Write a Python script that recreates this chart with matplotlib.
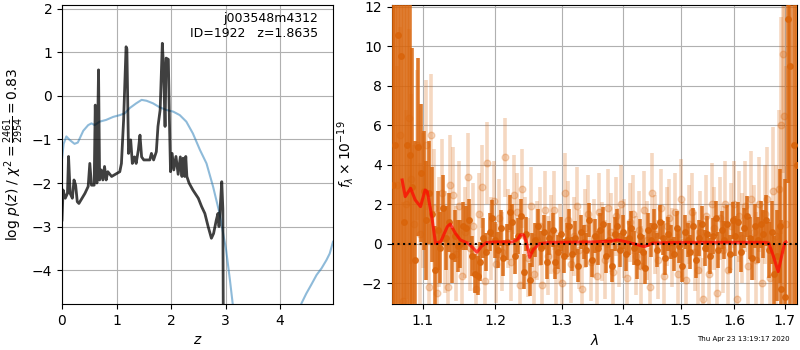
import matplotlib
matplotlib.use("Agg")
import matplotlib.pyplot as plt
from matplotlib.ticker import FixedLocator, FixedFormatter, NullLocator

# ---------------- left panel: p(z) ----------------
z_pz = [0.00, 0.02, 0.06, 0.10, 0.12, 0.15, 0.19, 0.22, 0.25, 0.28,
        0.31, 0.42, 0.48, 0.51, 0.54, 0.59, 0.61, 0.64, 0.67, 0.69,
        0.72, 0.75, 0.78, 0.81, 0.84, 0.91, 1.06, 1.09, 1.13, 1.175,
        1.19, 1.22, 1.26, 1.29, 1.33, 1.36, 1.40, 1.43, 1.46, 1.50,
        1.61, 1.64, 1.68, 1.73, 1.76, 1.80, 1.84, 1.86, 1.89, 1.91,
        1.95, 1.97, 1.99, 2.02, 2.05, 2.09, 2.13, 2.17, 2.20, 2.22,
        2.25, 2.27, 2.29, 2.33, 2.40, 2.50, 2.56, 2.62, 2.68, 2.74,
        2.78, 2.83, 2.86, 2.88, 2.93, 2.95, 2.98]
logpz = [-2.85, -2.16, -2.35, -2.24, -1.39, -2.24, -2.35, -1.93, -2.05, -2.43,
         -2.47, -2.24, -2.08, -1.55, -2.05, -2.05, -0.21, -2.00, 0.60, -1.93,
         -1.70, -1.93, -1.62, -1.93, -1.74, -1.85, -1.74, -1.55, -0.55, 1.13,
         1.08, -1.32, -1.01, -1.55, -1.40, -1.55, -1.24, -0.90, -1.40, -1.47,
         -1.47, -1.32, -1.47, -1.28, -0.70, -0.32, 1.21, 0.70, -0.70, 0.87,
         0.84, -0.55, -1.74, -1.32, -1.70, -1.39, -1.80, -1.40, -1.85, -1.43,
         -1.85, -1.39, -1.85, -2.00, -2.16, -2.35, -2.54, -2.70, -3.00, -3.27,
         -3.16, -2.85, -2.70, -3.00, -1.97, -2.60, -12.0]

z_chi = [0.00, 0.03, 0.08, 0.14, 0.23, 0.29, 0.39, 0.48, 0.54, 0.60,
         0.69, 0.81, 0.94, 1.06, 1.15, 1.24, 1.36, 1.46, 1.55, 1.67,
         1.79, 1.91, 2.04, 2.16, 2.28, 2.40, 2.53, 2.65, 2.77, 2.89,
         3.01, 3.08, 3.13, 3.40, 3.80, 4.20, 4.39, 4.48, 4.57, 4.67,
         4.76, 4.85, 4.91, 4.97]
chi_scaled = [-1.45, -1.10, -0.93, -1.01, -1.10, -1.07, -0.80, -0.67, -0.63, -0.67,
              -0.59, -0.55, -0.48, -0.44, -0.40, -0.28, -0.17, -0.09, -0.11, -0.17,
              -0.26, -0.32, -0.36, -0.44, -0.59, -0.86, -1.24, -1.55, -2.08, -2.70,
              -3.54, -4.23, -4.77, -6.50, -7.50, -6.00, -4.77, -4.54, -4.34, -4.11,
              -3.96, -3.77, -3.62, -3.35]

# ---------------- right panel: spectrum ----------------
lam_dark = [1.061, 1.064, 1.068, 1.071, 1.075, 1.079, 1.083, 1.086, 1.090, 1.094,
            1.097, 1.101, 1.104, 1.108, 1.112, 1.116, 1.120, 1.123, 1.127, 1.131,
            1.135, 1.139, 1.143, 1.147, 1.151, 1.155, 1.159, 1.163, 1.167, 1.171,
            1.175, 1.179, 1.183, 1.187, 1.192, 1.196, 1.200, 1.204, 1.208, 1.212,
            1.217, 1.221, 1.225, 1.229, 1.234, 1.238, 1.242, 1.246, 1.251, 1.255,
            1.259, 1.264, 1.268, 1.272, 1.277, 1.281, 1.286, 1.290, 1.294, 1.299,
            1.303, 1.308, 1.312, 1.317, 1.321, 1.326, 1.330, 1.335, 1.339, 1.344,
            1.349, 1.353, 1.358, 1.362, 1.367, 1.372, 1.376, 1.381, 1.386, 1.390,
            1.395, 1.400, 1.405, 1.409, 1.414, 1.419, 1.424, 1.429, 1.433, 1.438,
            1.443, 1.448, 1.453, 1.458, 1.463, 1.468, 1.473, 1.478, 1.483, 1.488,
            1.493, 1.498, 1.503, 1.508, 1.513, 1.518, 1.523, 1.528, 1.534, 1.539,
            1.544, 1.549, 1.554, 1.560, 1.565, 1.570, 1.576, 1.581, 1.586, 1.592,
            1.597, 1.602, 1.608, 1.613, 1.619, 1.624, 1.630, 1.635, 1.641, 1.646,
            1.652, 1.657, 1.663, 1.668, 1.674, 1.678, 1.684, 1.690, 1.693, 1.700,
            1.706, 1.712, 1.719, 1.726]
flux_dark = [3.0, 5.0, 10.6, 9.5, 1.1, 5.0, 4.5, 2.9, -0.8, 4.9,
             3.6, 2.7, 1.2, 2.6, 1.5, -1.3, 0.7, -0.2, 1.8, 0.3,
             1.1, -0.6, 0.4, -0.1, 0.0, 0.9, 0.8, 1.2, -0.6, -1.5,
             -1.6, -0.9, 0.3, -0.4, 0.6, 1.3, 0.2, -0.3, 0.8, -0.7,
             0.1, 1.6, 1.1, -0.6, 0.4, 1.4, -1.4, 0.5, -1.8, -0.3,
             0.2, 0.9, -0.2, 0.6, -0.9, 0.3, 0.7, -0.9, -0.4, 0.5,
             -0.6, 0.2, 0.9, -0.5, 0.3, -1.1, 0.6, 0.1, -0.3, 1.2,
             -0.8, 0.4, -0.2, 0.7, 1.0, -0.6, 0.2, -1.1, 0.5, 0.9,
             -0.3, 0.6, -0.5, 0.3, 0.8, -0.2, -0.9, 0.4, -0.4, -1.2,
             0.7, 0.2, 0.9, -0.3, 1.1, 0.3, -0.7, 0.5, 0.1, -0.5,
             0.8, -0.1, -1.1, 0.6, 0.2, -0.4, 0.9, -0.8, 0.3, 1.0,
             -0.2, 0.5, -0.6, 0.4, 1.3, -0.3, 0.7, 0.2, 1.0, -0.5,
             1.2, 0.4, 1.1, -0.4, 0.8, 1.4, 0.3, -0.7, 0.9, 0.2,
             1.0, 0.5, 1.2, -0.3, 0.6, -1.5, -0.6, 0.9, -2.3, -2.7,
             11.4, 9.0, 5.0, 4.0]
err_dark = [20, 20, 14, 13, 12, 9, 8, 7, 6, 4.5,
            3.5, 3.0, 3.0, 2.6, 2.4, 2.2, 2.0, 1.8, 1.7, 1.6,
            1.5, 1.4, 1.3, 1.3, 1.2, 1.2, 1.1, 1.1, 1.0, 1.0,
            1.0, 1.0, 1.0, 0.95, 0.95, 0.95, 0.9, 0.9, 0.9, 0.9,
            0.9, 0.9, 0.9, 0.9, 0.9, 0.9, 0.9, 0.85, 0.85, 0.85,
            0.85, 0.85, 0.85, 0.85, 0.85, 0.85, 0.85, 0.85, 0.85, 0.85,
            0.85, 0.85, 0.85, 0.85, 0.85, 0.85, 0.85, 0.85, 0.85, 0.85,
            0.85, 0.85, 0.85, 0.85, 0.85, 0.85, 0.85, 0.85, 0.85, 0.85,
            0.85, 0.85, 0.85, 0.85, 0.85, 0.85, 0.85, 0.85, 0.85, 0.85,
            0.85, 0.85, 0.85, 0.85, 0.85, 0.85, 0.85, 0.85, 0.85, 0.85,
            0.85, 0.85, 0.85, 0.85, 0.85, 0.85, 0.9, 0.9, 0.9, 0.9,
            0.9, 0.9, 0.9, 0.9, 0.9, 0.9, 0.95, 0.95, 0.95, 0.95,
            0.95, 1.0, 1.0, 1.0, 1.0, 1.05, 1.05, 1.1, 1.1, 1.15,
            1.2, 1.2, 1.3, 1.4, 1.6, 1.9, 2.3, 2.9, 3.5, 6.0,
            8.3, 16, 16, 16]

lam_light = [1.066, 1.070, 1.074, 1.078, 1.082, 1.085, 1.089, 1.093, 1.096, 1.100,
             1.104, 1.108, 1.111, 1.115, 1.119, 1.122, 1.126, 1.130, 1.134, 1.137,
             1.141, 1.145, 1.149, 1.153, 1.157, 1.161, 1.165, 1.169, 1.173, 1.177,
             1.181, 1.185, 1.189, 1.194, 1.198, 1.202, 1.206, 1.210, 1.215, 1.219,
             1.223, 1.227, 1.232, 1.236, 1.240, 1.244, 1.249, 1.253, 1.257, 1.262,
             1.266, 1.270, 1.275, 1.279, 1.284, 1.288, 1.292, 1.297, 1.301, 1.306,
             1.310, 1.315, 1.319, 1.324, 1.328, 1.333, 1.337, 1.342, 1.346, 1.351,
             1.356, 1.360, 1.365, 1.369, 1.374, 1.379, 1.383, 1.388, 1.393, 1.397,
             1.402, 1.407, 1.412, 1.416, 1.421, 1.426, 1.431, 1.436, 1.440, 1.445,
             1.450, 1.455, 1.460, 1.465, 1.470, 1.475, 1.480, 1.485, 1.490, 1.495,
             1.500, 1.505, 1.510, 1.515, 1.521, 1.526, 1.531, 1.536, 1.541, 1.546,
             1.552, 1.557, 1.562, 1.567, 1.573, 1.578, 1.583, 1.589, 1.594, 1.600,
             1.605, 1.610, 1.616, 1.621, 1.627, 1.632, 1.638, 1.643, 1.649, 1.654,
             1.660, 1.665, 1.671, 1.677, 1.682, 1.688, 1.693, 1.696, 1.699, 1.702]
flux_light = [3.0, 5.5, -2.9, 2.0, 6.4, 3.3, 1.0, 5.0, 0.5, 2.2,
              5.0, -2.2, 5.5, 1.8, -2.5, 0.6, 2.6, 0.1, -2.2, 3.0,
              2.5, -0.5, 1.9, -1.6, 0.6, 3.4, -0.2, 0.9, -2.3, 1.5,
              2.9, -1.9, 4.1, 0.3, 2.2, -1.0, 1.3, -0.4, 4.4, 0.8,
              -0.9, 2.5, 1.6, -2.1, 2.8, 0.4, -0.7, 1.9, -1.5, 0.2,
              0.9, -2.1, 1.7, -0.6, 0.5, 1.7, -1.3, 0.0, -2.0, 2.6,
              1.2, -1.0, 0.4, 1.9, -0.3, -2.3, 0.8, 1.5, -0.9, 0.3,
              -1.6, 1.6, 0.1, -0.8, 1.8, 0.6, -1.4, 1.4, -0.2, 2.0,
              0.3, -1.7, 1.1, 1.5, -0.6, 0.7, -1.1, 1.7, 0.2, -2.2,
              2.6, 0.5, -0.8, 1.8, -1.6, 0.9, 1.3, -0.2, 1.6, -1.5,
              2.3, 0.1, -1.8, 1.0, 1.6, -0.4, -1.3, 0.6, -2.8, 1.4,
              -1.5, 2.0, 0.8, -2.5, 1.3, -0.3, 2.0, -1.3, 0.9, 2.0,
              -2.8, 1.4, 0.3, 1.9, -1.1, 2.3, 0.6, -0.8, 2.0, -2.0,
              1.5, 2.3, -1.7, 2.7, 0.4, 2.8, 6.0, 9.6, 6.5, 1.0]
err_light = [6.0, 5.5, 5.0, 4.8, 4.5, 4.3, 4.0, 3.8, 3.6, 3.4,
             3.3, 3.2, 3.1, 3.0, 2.9, 2.8, 2.7, 2.6, 2.5, 2.5,
             2.4, 2.4, 2.3, 2.3, 2.3, 2.2, 2.2, 2.2, 2.2, 2.1,
             2.1, 2.1, 2.1, 2.1, 2.0, 2.0, 2.0, 2.0, 2.0, 2.0,
             2.0, 2.0, 2.0, 2.0, 2.0, 2.0, 2.0, 2.0, 2.0, 2.0,
             2.0, 2.0, 2.0, 2.0, 2.0, 2.0, 2.0, 2.0, 2.0, 2.0,
             2.0, 2.0, 2.0, 2.0, 2.0, 2.0, 2.0, 2.0, 2.0, 2.0,
             2.0, 2.0, 2.0, 2.0, 2.0, 2.0, 2.0, 2.0, 2.0, 2.0,
             2.0, 2.0, 2.0, 2.0, 2.0, 2.0, 2.0, 2.0, 2.0, 2.0,
             2.0, 2.0, 2.0, 2.0, 2.0, 2.0, 2.0, 2.0, 2.0, 2.0,
             2.0, 2.0, 2.0, 2.0, 2.0, 2.0, 2.0, 2.1, 2.1, 2.1,
             2.1, 2.1, 2.1, 2.1, 2.1, 2.2, 2.2, 2.2, 2.2, 2.2,
             2.2, 2.3, 2.3, 2.3, 2.3, 2.4, 2.4, 2.4, 2.4, 2.4,
             2.5, 2.6, 2.8, 3.2, 3.6, 4.0, 5.5, 6.0, 7.0, 8.0]

lam_model = [1.073, 1.077, 1.084, 1.090, 1.097, 1.103, 1.106, 1.112, 1.117, 1.124,
             1.133, 1.137, 1.144, 1.151, 1.162, 1.169, 1.174, 1.180, 1.187, 1.200,
             1.225, 1.232, 1.237, 1.242, 1.246, 1.251, 1.256, 1.266, 1.280, 1.350,
             1.380, 1.390, 1.400, 1.420, 1.436, 1.450, 1.500, 1.600, 1.660, 1.668,
             1.677, 1.687, 1.695, 1.700, 1.703]
flux_model = [3.24, 2.40, 2.82, 2.23, 1.89, 2.73, 2.65, 1.38, 0.03, 0.12,
              0.88, 1.01, 0.54, 0.20, 0.03, -0.22, -0.42, -0.14, 0.07, 0.10,
              0.10, 0.20, 0.46, 0.46, 0.10, -0.68, -0.30, 0.02, 0.08, 0.10,
              0.14, 0.20, 0.14, 0.00, -0.14, 0.05, 0.08, 0.08, 0.08, 0.05,
              -0.60, -1.40, -0.50, 0.05, 0.10]

lam_ticks = [1.1, 1.2, 1.3, 1.4, 1.5, 1.6, 1.7]
lam_ticklabels = ['1.1', '1.2', '1.3', '1.4', '1.5', '1.6', '1.7']

title_text = 'j003548m4312\nID=1922   z=1.8635'
date_text = 'Thu Apr 23 13:19:17 2020'

DARK = '#d9640a'

fig = plt.figure(figsize=(8, 3.5), dpi=100)
ax1 = fig.add_axes([62/800, 46/350, 271/800, 299/350])
ax2 = fig.add_axes([392/800, 46/350, 405/800, 299/350])

# left
ax1.plot(z_chi, chi_scaled, color='#1f77b4', alpha=0.5, lw=1.5)
ax1.plot(z_pz, logpz, color='k', alpha=0.75, lw=2)
ax1.set_xlim(0, 4.97)
ax1.set_ylim(-4.78, 2.09)
ax1.set_xticks([0, 1, 2, 3, 4])
ax1.set_yticks([-4, -3, -2, -1, 0, 1, 2])
ax1.grid(True)
ax1.set_xlabel(r'$z$')
ax1.set_ylabel(r'log $p(z)$ / $\chi^2=\frac{2461}{2954}=0.83$')
ax1.text(0.945, 0.975, title_text, transform=ax1.transAxes, ha='right', va='top',
         fontsize=9, linespacing=1.2)

# right
ax2.errorbar(lam_light, flux_light, yerr=err_light, fmt='o', color=DARK, ms=4.8,
             elinewidth=2.6, alpha=0.25, capsize=0, zorder=2)
ax2.errorbar(lam_dark, flux_dark, yerr=err_dark, fmt='o', color=DARK, ms=4.0,
             elinewidth=2.6, alpha=0.85, capsize=0, zorder=3)
ax2.plot(lam_model, flux_model, color='r', alpha=0.7, lw=2.2, zorder=5)
ax2.axhline(0, color='k', linestyle=':', lw=1.5, zorder=6)
ax2.set_xscale('log')
ax2.set_xlim(1.06, 1.7256)
ax2.xaxis.set_major_locator(FixedLocator(lam_ticks))
ax2.xaxis.set_major_formatter(FixedFormatter(lam_ticklabels))
ax2.xaxis.set_minor_locator(NullLocator())
ax2.set_ylim(-3.04, 12.1)
ax2.set_yticks([-2, 0, 2, 4, 6, 8, 10, 12])
ax2.grid(True)
ax2.set_xlabel(r'$\lambda$')
ax2.set_ylabel(r'$f_\lambda\times10^{-19}$')

fig.text(0.987, 0.022, date_text, ha='right', va='bottom', fontsize=5)

fig.savefig('out.png', dpi=100)
